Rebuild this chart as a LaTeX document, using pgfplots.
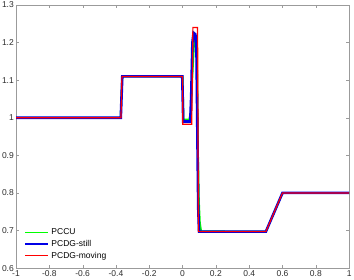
\documentclass[border=0pt]{standalone}
\usepackage{fontspec}
\setmainfont{Liberation Sans}
\usepackage{pgfplots}
\pgfplotsset{compat=1.18}
\definecolor{axgray}{RGB}{155,155,155}
\definecolor{labgray}{RGB}{45,45,45}
\definecolor{cgreen}{RGB}{0,255,0}
\definecolor{cblue}{RGB}{0,0,230}
\definecolor{cred}{RGB}{255,0,0}
\begin{document}
\begin{tikzpicture}
\begin{axis}[
  width=333pt, height=263pt, scale only axis,
  xmin=-1, xmax=1, ymin=0.6, ymax=1.3,
  xtick={-1,-0.8,-0.6,-0.4,-0.2,0,0.2,0.4,0.6,0.8,1},
  ytick={0.6,0.7,0.8,0.9,1,1.1,1.2,1.3},
  /pgf/number format/assume math mode=true,
  tick label style={font=\fontsize{8.5}{10}\selectfont, text=labgray},
  xticklabel style={inner sep=2.5pt},
  yticklabel style={inner sep=2pt},
  axis line style={axgray},
  tick style={axgray},
  tick align=inside,
  major tick length=3pt,
  legend style={draw=none, fill=none, at={(0.02,0.02)}, anchor=south west,
    font=\fontsize{8.5}{10}\selectfont, row sep=0pt, inner sep=1pt},
  legend cell align=left,
  legend image code/.code={\draw[#1] (0pt,0pt) -- (23pt,0pt);},
]
\addplot[cgreen, line width=1.8pt] coordinates {
(-1,1) (-0.372,1) (-0.362,1.11) (0.0,1.11) (0.006,0.995) (0.04,0.995) (0.05,1.02)
(0.06,1.12) (0.068,1.19) (0.076,1.21) (0.083,1.2) (0.088,1.1) (0.093,0.9) (0.098,0.78)
(0.104,0.72) (0.112,0.698) (0.5,0.697) (0.6,0.8) (1,0.8)};
\addlegendentry{PCCU}
\addplot[cblue, line width=2.6pt] coordinates {
(-1,1) (-0.371,1) (-0.362,1.11) (-0.002,1.11) (0.004,0.99) (0.046,0.99) (0.052,1.06)
(0.059,1.2) (0.066,1.226) (0.077,1.222) (0.084,1.16) (0.089,0.95) (0.094,0.76)
(0.099,0.697) (0.5,0.697) (0.6,0.8) (1,0.8)};
\addlegendentry{PCDG-still}
\addplot[cred, line width=1.2pt] coordinates {
(-1,1) (-0.37,1) (-0.364,1.11) (0.0,1.11) (0.001,0.983) (0.055,0.983) (0.062,1.24)
(0.09,1.24) (0.095,0.697) (0.5,0.697) (0.6,0.8) (1,0.8)};
\addlegendentry{PCDG-moving}
\end{axis}
\end{tikzpicture}
\end{document}
